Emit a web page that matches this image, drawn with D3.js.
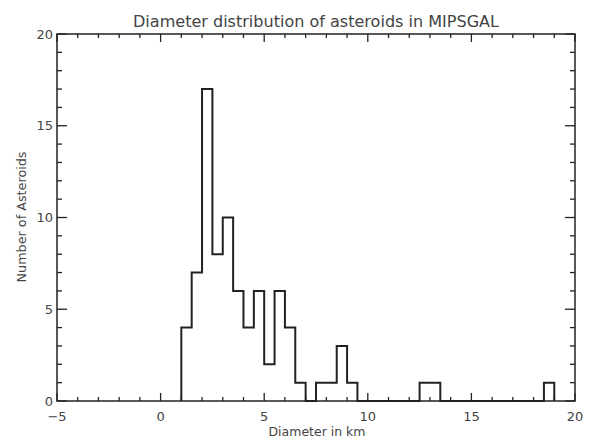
<!DOCTYPE html>
<html><head><meta charset="utf-8">
<script src="https://cdn.jsdelivr.net/npm/d3@7"></script>
<style>body{margin:0;background:#fff}svg{display:block}text{font-family:"DejaVu Sans",sans-serif;fill:#444}</style>
</head><body><svg id="c" width="592" height="438"></svg>
<script>
const title = "Diameter distribution of asteroids in MIPSGAL";
const xLabel = "Diameter in km";
const yLabel = "Number of Asteroids";
const xTicks = [-5, 0, 5, 10, 15, 20];
const yTicks = [0, 5, 10, 15, 20];
const binWidth = 0.5;
const binStarts = [1.0,1.5,2.0,2.5,3.0,3.5,4.0,4.5,5.0,5.5,6.0,6.5,7.0,7.5,8.0,8.5,9.0,9.5,10.0,10.5,11.0,11.5,12.0,12.5,13.0,13.5,14.0,14.5,15.0,15.5,16.0,16.5,17.0,17.5,18.0,18.5];
const counts    = [4,7,17,8,10,6,4,6,2,6,4,1,0,1,1,3,1,0,0,0,0,0,0,1,1,0,0,0,0,0,0,0,0,0,0,1];

const svg = d3.select("#c");
const L = 57, R = 575, T = 34, B = 401;
const x = d3.scaleLinear().domain([-5, 20]).range([L, R]);
const y = d3.scaleLinear().domain([0, 20]).range([B, T]);
const ink = "#222";

// histogram step path
const pts = [[binStarts[0], 0]];
binStarts.forEach((s, i) => { pts.push([s, counts[i]]); pts.push([s + binWidth, counts[i]]); });
pts.push([binStarts[binStarts.length-1] + binWidth, 0]);
svg.append("path").attr("d", d3.line().x(d => x(d[0])).y(d => y(d[1]))(pts))
  .attr("fill", "none").attr("stroke", ink).attr("stroke-width", 2);

// frame
svg.append("rect").attr("x", L).attr("y", T).attr("width", R - L).attr("height", B - T)
  .attr("fill", "none").attr("stroke", ink).attr("stroke-width", 1.5);

// ticks on all sides
const xMinor = d3.range(-5, 20.001, 1), yMinor = d3.range(0, 20.001, 1);
const tk = svg.append("g").attr("stroke", ink).attr("stroke-width", 1.3);
xMinor.forEach(v => {
  const len = xTicks.includes(v) ? 8 : 4;
  tk.append("line").attr("x1", x(v)).attr("x2", x(v)).attr("y1", B).attr("y2", B - len);
  tk.append("line").attr("x1", x(v)).attr("x2", x(v)).attr("y1", T).attr("y2", T + len);
});
yMinor.forEach(v => {
  const len = yTicks.includes(v) ? 10 : 5;
  tk.append("line").attr("y1", y(v)).attr("y2", y(v)).attr("x1", L).attr("x2", L + len);
  tk.append("line").attr("y1", y(v)).attr("y2", y(v)).attr("x1", R).attr("x2", R - len);
});

// tick labels
svg.append("g").selectAll("text").data(xTicks).join("text")
  .attr("x", d => x(d)).attr("y", 421).attr("text-anchor", "middle")
  .attr("font-size", 13).text(d => d < 0 ? "\u2212" + Math.abs(d) : d);
svg.append("g").selectAll("text").data(yTicks).join("text")
  .attr("x", 53).attr("y", d => y(d) + 4.5).attr("text-anchor", "end")
  .attr("font-size", 13).text(d => d);

// labels
svg.append("text").attr("x", 316).attr("y", 27).attr("text-anchor", "middle")
  .attr("font-size", 15).attr("textLength", 366).attr("lengthAdjust", "spacingAndGlyphs").text(title);
svg.append("text").attr("x", 317).attr("y", 436).attr("text-anchor", "middle")
  .attr("font-size", 12).attr("textLength", 97).attr("lengthAdjust", "spacingAndGlyphs").text(xLabel);
svg.append("text").attr("transform", "translate(26,217) rotate(-90)").attr("text-anchor", "middle")
  .attr("font-size", 12).attr("textLength", 131).attr("lengthAdjust", "spacingAndGlyphs").text(yLabel);
</script></body></html>
